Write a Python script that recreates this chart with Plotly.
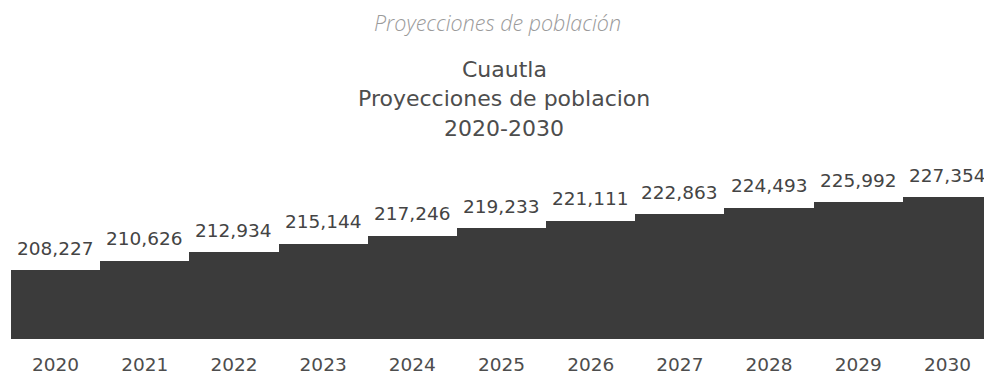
import plotly.graph_objects as go

years = ["2020", "2021", "2022", "2023", "2024", "2025", "2026", "2027", "2028", "2029", "2030"]
population = [208227, 210626, 212934, 215144, 217246, 219233, 221111, 222863, 224493, 225992, 227354]

subtitle = "Proyecciones de población"
title_lines = ["Cuautla", "Proyecciones de poblacion", "2020-2030"]

BAR_COLOR = "#3b3b3b"
TEXT_COLOR = "#4d4d4d"
FONT = "DejaVu Sans"

W, H = 984, 377
ML, MR, MT, MB = 11, 0, 180, 38
pw, ph = W - ML - MR, H - MT - MB


def px_to_paper(px_x, px_y):
    # header text is placed by its pixel position in the page
    return (px_x - ML) / pw, (H - MB - px_y) / ph


fig = go.Figure()
fig.add_trace(go.Bar(
    x=years,
    y=population,
    marker=dict(color=BAR_COLOR, line=dict(width=0)),
    hoverinfo="x+y",
))

# value labels above each bar (x is the category index)
for i, val in enumerate(population):
    fig.add_annotation(
        x=i, y=val, text=f"{val:,}",
        showarrow=False, yanchor="middle", yshift=22,
        font=dict(size=18.5, color="#444444", family=FONT),
    )

sx, sy = px_to_paper(497, 22)
fig.add_annotation(
    x=sx, y=sy, xref="paper", yref="paper", yanchor="middle",
    text=f"<i>{subtitle}</i>", showarrow=False,
    font=dict(size=21.5, color="#9a9a9a", family="Open Sans", weight=300),
)
for i, line in enumerate(title_lines):
    tx, ty = px_to_paper(504, 70 + 29 * i)
    fig.add_annotation(
        x=tx, y=ty, xref="paper", yref="paper", yanchor="middle",
        text=line, showarrow=False,
        font=dict(size=22, color=TEXT_COLOR, family=FONT),
    )

fig.update_layout(
    width=W, height=H,
    margin=dict(l=ML, r=MR, t=MT, b=MB),
    paper_bgcolor="white",
    plot_bgcolor="white",
    bargap=0,
    showlegend=False,
    xaxis=dict(
        type="category", range=[-0.5, 10.41], automargin=False,
        showgrid=False, zeroline=False, showline=False,
        ticks="", ticklabelstandoff=12,
        tickfont=dict(size=18.5, color=TEXT_COLOR, family=FONT),
    ),
    yaxis=dict(
        range=[190150, 231810], visible=False, showgrid=False, zeroline=False,
        automargin=False,
    ),
)

# drop the default 8px body margin so the figure fills the window
fig.write_html(
    "out.html",
    config={"displayModeBar": False},
    post_script="document.body.style.margin = '0';",
)
